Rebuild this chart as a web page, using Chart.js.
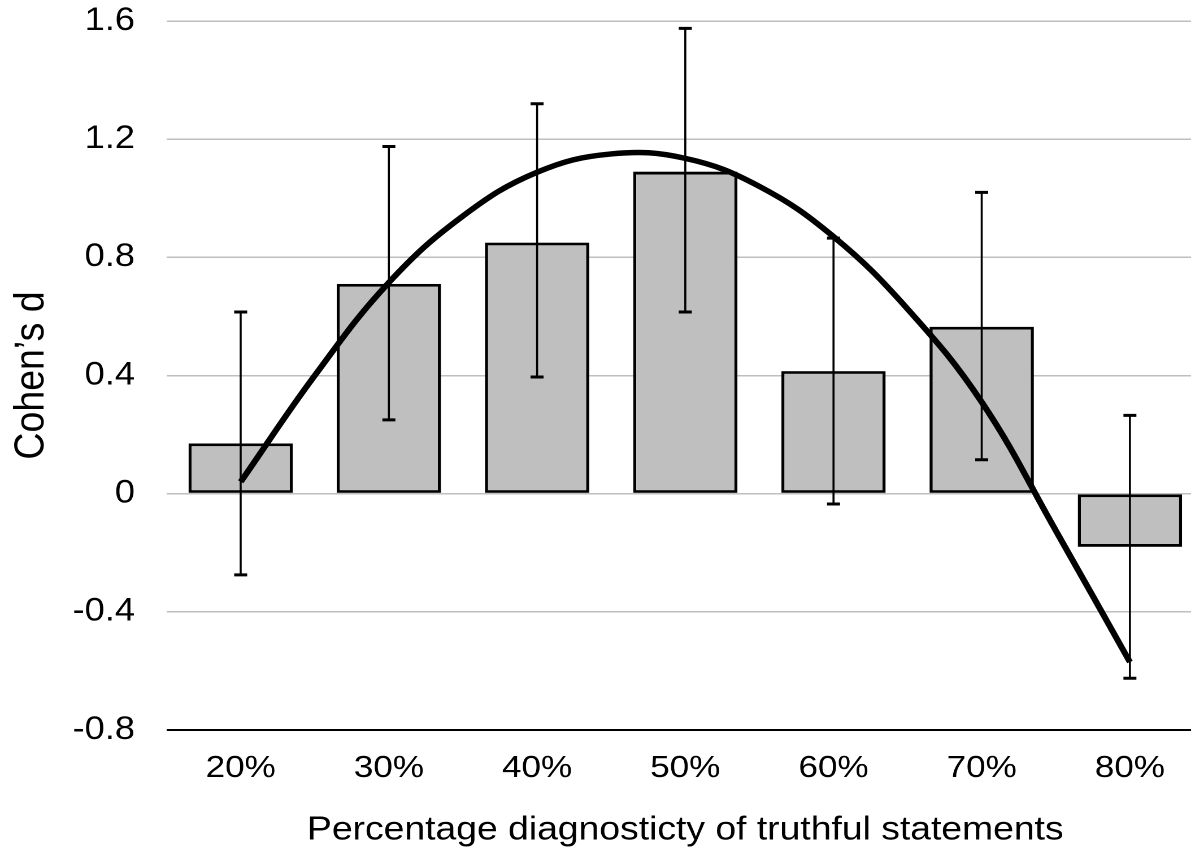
<!DOCTYPE html>
<html>
<head>
<meta charset="utf-8">
<title>Cohen's d by percentage diagnosticity</title>
<script src="https://cdn.jsdelivr.net/npm/chart.js@4.4.1/dist/chart.umd.min.js"></script>
<style>
  html, body { margin: 0; padding: 0; background: #fff; overflow: hidden; }
  /* the source figure is stretched horizontally, so we stretch the canvas the same way */
  #wrap { width: 1072px; height: 854px; transform: scaleX(1.13); transform-origin: 0 0; }
</style>
</head>
<body>
<div id="wrap"><canvas id="chart" width="1072" height="854"></canvas></div>
<script>
const categories = ['20%', '30%', '40%', '50%', '60%', '70%', '80%'];
const cohenD = [0.17, 0.71, 0.85, 1.09, 0.415, 0.565, -0.18];
const errHigh = [0.615, 1.175, 1.32, 1.575, 0.865, 1.02, 0.265];
const errLow = [-0.275, 0.25, 0.395, 0.615, -0.035, 0.115, -0.625];

// trend curve at half-category steps (0 = 20%, 6 = 80%)
const trendPos = [0, 0.5, 1, 1.5, 2, 2.5, 3, 3.5, 4, 4.5, 5, 5.5, 6];
const trendVals = [0.04, 0.40, 0.715, 0.94, 1.088, 1.15, 1.135, 1.04, 0.87, 0.625, 0.31, -0.125, -0.57];

const yTicks = [-0.8, -0.4, 0, 0.4, 0.8, 1.2, 1.6];

const FONT = '"Liberation Sans", Arial, Helvetica, sans-serif';

// Chart.js has no error bars, so draw them right after the bars
const errorBars = {
    id: 'errorBars',
    afterDatasetDraw(chart, args) {
        if (args.index !== 0) {
            return;
        }
        const ctx = chart.ctx;
        const y = chart.scales.y;
        const cap = 5.75;
        ctx.save();
        ctx.strokeStyle = '#000';
        args.meta.data.forEach((bar, i) => {
            const top = y.getPixelForValue(errHigh[i]);
            const bot = y.getPixelForValue(errLow[i]);
            ctx.lineWidth = 1.8;
            ctx.beginPath();
            ctx.moveTo(bar.x, top);
            ctx.lineTo(bar.x, bot);
            ctx.stroke();
            ctx.lineWidth = 3;
            ctx.beginPath();
            ctx.moveTo(bar.x - cap, top);
            ctx.lineTo(bar.x + cap, top);
            ctx.moveTo(bar.x - cap, bot);
            ctx.lineTo(bar.x + cap, bot);
            ctx.stroke();
        });
        ctx.restore();
    }
};

new Chart(document.getElementById('chart'), {
    type: 'bar',
    data: {
        datasets: [
            {
                label: 'Cohen\u2019s d',
                data: cohenD.map((v, i) => ({ x: i, y: v })),
                backgroundColor: '#bfbfbf',
                borderColor: '#000',
                borderWidth: 2.8,
                borderSkipped: false,
                grouped: false,
                categoryPercentage: 1,
                barPercentage: 0.704,
                order: 2,
            },
            {
                type: 'line',
                label: 'trend',
                data: trendPos.map((p, i) => ({ x: p, y: trendVals[i] })),
                borderColor: '#000',
                borderWidth: 5.5,
                pointRadius: 0,
                tension: 0.4,
                fill: false,
                order: 1,
            },
        ],
    },
    options: {
        responsive: false,
        devicePixelRatio: 2,
        animation: false,
        layout: { autoPadding: false, padding: { top: 21, right: 6.5, left: 0, bottom: 0 } },
        plugins: {
            legend: { display: false },
            tooltip: { enabled: false },
        },
        scales: {
            x: {
                type: 'linear',
                min: -0.5,
                max: 6.5,
                offset: false,
                afterBuildTicks(axis) { axis.ticks = categories.map((c, i) => ({ value: i })); },
                grid: { display: false, offset: false },
                border: { display: false },
                ticks: {
                    color: '#000',
                    font: { family: FONT, size: 31 },
                    padding: 12,
                    callback: v => categories[v],
                },
                title: {
                    display: true,
                    text: 'Percentage diagnosticty of truthful statements',
                    color: '#000',
                    font: { family: FONT, size: 33 },
                    padding: { top: 0, bottom: 4 },
                },
                afterFit(scale) { scale.height = 124; },
            },
            y: {
                min: -0.8,
                max: 1.6,
                afterBuildTicks(axis) { axis.ticks = yTicks.map(v => ({ value: v })); },
                grid: {
                    // invisible tick marks give the gap between labels and plot
                    tickLength: 28,
                    tickColor: 'rgba(0,0,0,0)',
                    color: c => (c.tick && c.tick.value === -0.8 ? '#000' : '#bfbfbf'),
                    lineWidth: c => (c.tick && c.tick.value === -0.8 ? 2 : 1.5),
                },
                border: { display: false },
                ticks: {
                    color: '#000',
                    font: { family: FONT, size: 32 },
                    padding: 0,
                    callback: v => String(Math.round(v * 10) / 10),
                },
                title: {
                    display: true,
                    text: 'Cohen\u2019s d',
                    color: '#000',
                    font: { family: FONT, size: 37.5 },
                    padding: { top: 5.7, bottom: 0 },
                },
                afterFit(scale) { scale.width = 147.4; },
            },
        },
    },
    plugins: [errorBars],
});
</script>
</body>
</html>
